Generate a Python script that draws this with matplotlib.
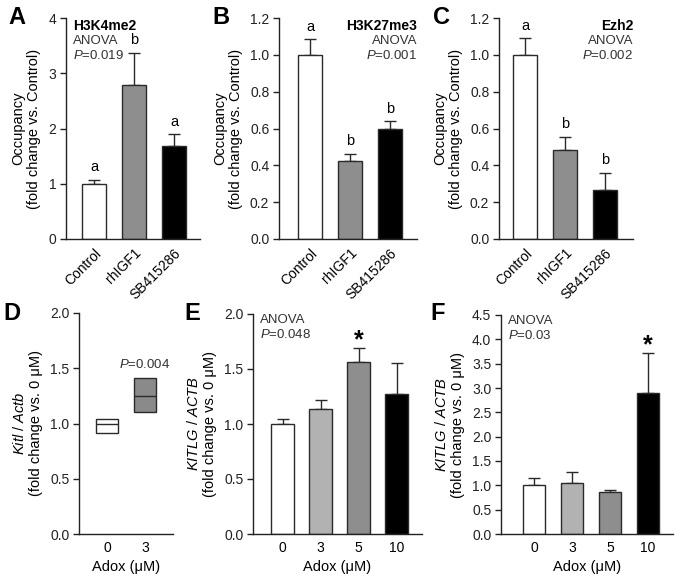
import matplotlib
matplotlib.use("Agg")
import matplotlib.pyplot as plt
import numpy as np

plt.rcParams['font.family'] = ['Liberation Sans', 'DejaVu Sans']
plt.rcParams['mathtext.fontset'] = 'custom'
plt.rcParams['mathtext.rm'] = 'Liberation Sans'
plt.rcParams['mathtext.it'] = 'Liberation Sans:italic'
plt.rcParams['mathtext.bf'] = 'Liberation Sans:bold'

# ---- data ----
groups_abc = ["Control", "rhIGF1", "SB415286"]
a_vals = [1.0, 2.78, 1.69]
a_errs = [0.07, 0.59, 0.21]
a_lett = ["a", "b", "a"]
b_vals = [1.0, 0.425, 0.595]
b_errs = [0.085, 0.037, 0.045]
b_lett = ["a", "b", "b"]
c_vals = [1.0, 0.485, 0.265]
c_errs = [0.09, 0.07, 0.095]
c_lett = ["a", "b", "b"]

d_doses = ["0", "3"]
d_low = [0.915, 1.10]
d_mid = [1.0, 1.25]
d_high = [1.04, 1.415]

ef_doses = ["0", "3", "5", "10"]
e_vals = [1.0, 1.14, 1.56, 1.27]
e_errs = [0.05, 0.075, 0.13, 0.285]
f_vals = [1.0, 1.05, 0.86, 2.9]
f_errs = [0.15, 0.23, 0.05, 0.82]

abc_colors = ["white", "#8e8e8e", "black"]
d_colors = ["white", "#8a8a8a"]
ef_colors = ["white", "#b2b2b2", "#8e8e8e", "black"]

W, H = 684, 583
fig = plt.figure(figsize=(W / 100, H / 100), dpi=100)

def add_ax(x0, x1, ytop, ybot):
    return fig.add_axes([x0 / W, (H - ybot) / H, (x1 - x0) / W, (ybot - ytop) / H])

EDGE = "#2a2a2a"
TFS = 10
LFS = 10.5
AFS = 9.5

def style(ax):
    for s in ["top", "right"]:
        ax.spines[s].set_visible(False)
    for s in ["left", "bottom"]:
        ax.spines[s].set_linewidth(1.0)
        ax.spines[s].set_color("#222222")
    ax.tick_params(axis="y", direction="out", length=4, width=1.0, labelsize=TFS, pad=3, colors="#222222")
    ax.tick_params(axis="x", length=0, labelsize=TFS, pad=5)

def bars(ax, vals, errs, colors, width=0.6):
    x = np.arange(len(vals))
    ax.bar(x, vals, width=width, color=colors, edgecolor=EDGE, linewidth=1.0, zorder=2)
    ax.errorbar(x, vals, yerr=[np.zeros(len(vals)), errs], fmt="none", ecolor=EDGE,
                elinewidth=1.0, capsize=4, capthick=1.0, zorder=1)
    return x

# ---- A, B, C ----
abc_specs = [
    (66, 200, a_vals, a_errs, a_lett, (0, 4), [0, 1, 2, 3, 4], "{:.0f}", (-0.7, 2.65), "A", 8, "H3K4me2", "0.019", "left"),
    (279, 417, b_vals, b_errs, b_lett, (0, 1.2), [0, 0.2, 0.4, 0.6, 0.8, 1.0, 1.2], "{:.1f}", (-0.78, 2.68), "B", 212, "H3K27me3", "0.001", "right"),
    (499, 633, c_vals, c_errs, c_lett, (0, 1.2), [0, 0.2, 0.4, 0.6, 0.8, 1.0, 1.2], "{:.1f}", (-0.65, 2.7), "C", 433, "Ezh2", "0.002", "right"),
]
for (x0, x1, vals, errs, lett, ylim, yt, fmt, xlim, plab, plx, title, pval, align) in abc_specs:
    ax = add_ax(x0, x1, 18, 239)
    style(ax)
    x = bars(ax, vals, errs, abc_colors)
    ax.set_ylim(*ylim)
    ax.set_xlim(*xlim)
    ax.set_yticks(yt)
    ax.set_yticklabels([fmt.format(v) for v in yt])
    ax.set_xticks(x)
    ax.set_xticklabels(groups_abc, rotation=45, ha="right", rotation_mode="anchor")
    ax.set_ylabel("Occupancy\n(fold change vs. Control)", fontsize=LFS, labelpad=5)
    rng = ylim[1] - ylim[0]
    for xi, v, e, l in zip(x, vals, errs, lett):
        ax.text(xi, v + e + rng * 0.025, l, ha="center", va="bottom", fontsize=LFS)
    tx = 0.05 if align == "left" else 1.0
    ax.text(tx, 0.995, title, transform=ax.transAxes, ha=align, va="top", fontsize=10, fontweight="bold")
    ax.text(tx, 0.925, "ANOVA", transform=ax.transAxes, ha=align, va="top", fontsize=AFS, color="#333333")
    ax.text(tx, 0.86, r"$\mathit{P}$=" + pval, transform=ax.transAxes, ha=align, va="top", fontsize=AFS, color="#333333")
    fig.text(plx / W, 1 - 17 / H, plab, fontsize=17, fontweight="bold", ha="left", va="center")

# ---- D ----
ax = add_ax(79, 173, 313, 534)
style(ax)
xd = np.arange(len(d_doses))
ax.bar(xd, np.array(d_high) - np.array(d_low), bottom=d_low, width=0.58, color=d_colors,
       edgecolor=EDGE, linewidth=1.0, zorder=2)
ax.hlines(d_mid, xd - 0.29, xd + 0.29, colors=EDGE, linewidth=1.0, zorder=3)
ax.set_xlim(-0.74, 1.74)
ax.set_ylim(0, 2.0)
ax.set_yticks([0, 0.5, 1.0, 1.5, 2.0])
ax.set_yticklabels(["0.0", "0.5", "1.0", "1.5", "2.0"])
ax.set_xticks(xd)
ax.set_xticklabels(d_doses)
ax.set_xlabel("Adox (μM)", fontsize=LFS, labelpad=4)
ax.set_ylabel(r"$\mathit{Kitl\ /\ Actb}$" + "\n(fold change vs. 0 μM)", fontsize=LFS, labelpad=5)
ax.text(xd[1], d_high[1] + 0.06, r"$\mathit{P}$=0.004", ha="center", va="bottom", fontsize=AFS, color="#333333")
fig.text(3 / W, 1 - 313 / H, "D", fontsize=17, fontweight="bold", ha="left", va="center")

# ---- E, F ----
ef_specs = [
    (253, 422, 314, e_vals, e_errs, (0, 2.0), [0, 0.5, 1.0, 1.5, 2.0], (-0.78, 3.67), "E", "0.048", 2, 184),
    (501, 673, 315, f_vals, f_errs, (0, 4.5), [0, 0.5, 1.0, 1.5, 2.0, 2.5, 3.0, 3.5, 4.0, 4.5], (-0.87, 3.66), "F", "0.03", 3, 430),
]
for (x0, x1, ytop, vals, errs, ylim, yt, xlim, plab, pval, star_i, labx) in ef_specs:
    ax = add_ax(x0, x1, ytop, 534)
    style(ax)
    x = bars(ax, vals, errs, ef_colors)
    ax.set_ylim(*ylim)
    ax.set_xlim(*xlim)
    ax.set_yticks(yt)
    ax.set_yticklabels(["{:.1f}".format(v) for v in yt])
    ax.set_xticks(x)
    ax.set_xticklabels(ef_doses)
    ax.set_xlabel("Adox (μM)", fontsize=LFS, labelpad=4)
    ax.set_ylabel(r"$\mathit{KITLG\ /\ ACTB}$" + "\n(fold change vs. 0 μM)", fontsize=LFS, labelpad=5)
    ax.text(0.04, 1.0, "ANOVA", transform=ax.transAxes, ha="left", va="top", fontsize=AFS, color="#333333")
    ax.text(0.04, 0.935, r"$\mathit{P}$=" + pval, transform=ax.transAxes, ha="left", va="top", fontsize=AFS, color="#333333")
    rng = ylim[1] - ylim[0]
    ax.text(x[star_i], vals[star_i] + errs[star_i] - rng * 0.02, "*", ha="center", va="bottom",
            fontsize=18, fontweight="bold")
    fig.text(labx / W, 1 - 314 / H, plab, fontsize=17, fontweight="bold", ha="left", va="center")

fig.savefig("out.png", dpi=100, facecolor="white")
